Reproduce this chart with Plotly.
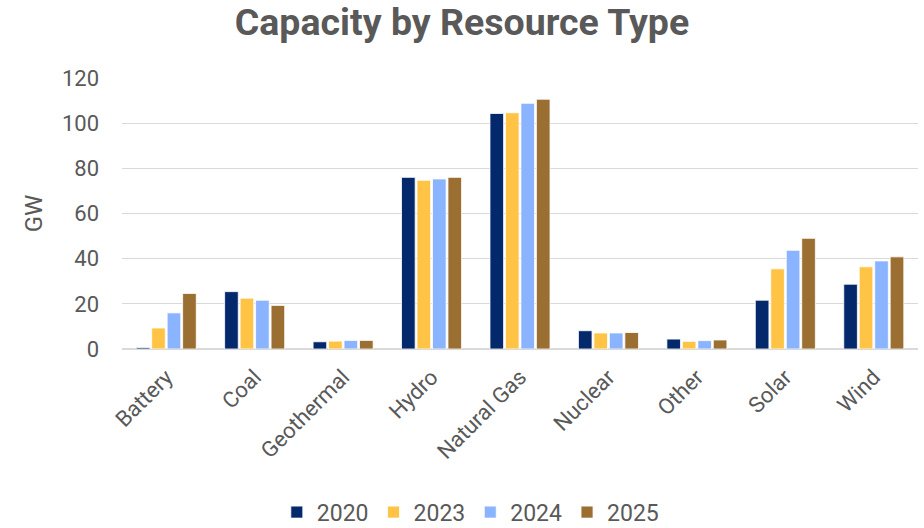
import plotly.graph_objects as go

categories = ["Battery", "Coal", "Geothermal", "Hydro", "Natural Gas", "Nuclear", "Other", "Solar", "Wind"]
years = ["2020", "2023", "2024", "2025"]
v2020 = [0.6, 25.4, 3.2, 76.0, 104.3, 8.1, 4.4, 21.6, 28.7]
v2023 = [9.3, 22.5, 3.5, 74.7, 104.6, 7.1, 3.4, 35.5, 36.4]
v2024 = [16.0, 21.6, 3.8, 75.3, 108.8, 7.1, 3.7, 43.7, 39.0]
v2025 = [24.6, 19.3, 3.8, 76.0, 110.6, 7.3, 4.0, 49.0, 40.8]
colors = ["#03286B", "#FFC445", "#8AB4FF", "#9B6E32"]
yticks = [0, 20, 40, 60, 80, 100, 120]

fig = go.Figure()
for name, vals, c in zip(years, [v2020, v2023, v2024, v2025], colors):
    fig.add_trace(go.Bar(x=categories, y=vals, name=name, marker=dict(color=c, line=dict(color="white", width=0.8))))

fig.update_layout(
    width=924, height=528,
    paper_bgcolor="white", plot_bgcolor="white",
    margin=dict(l=122, r=6, t=78, b=179),
    font=dict(family="Roboto", color="#595959", size=22),
    title=dict(text="<b>Capacity by Resource Type</b>", x=0.5, xanchor="center", y=0.958, yanchor="middle",
               yref="container", font=dict(size=37.5, color="#595959", family="Roboto")),
    barmode="group", bargap=0.3, bargroupgap=0.12,
    legend=dict(orientation="h", x=0.509, xanchor="center", xref="container", y=0.03, yanchor="middle",
                yref="container", font=dict(size=23, color="#595959"), itemwidth=30, traceorder="normal",
                tracegroupgap=0),
    showlegend=True,
)
fig.update_yaxes(range=[0, 120], tickvals=yticks, showgrid=True, gridcolor="#D9D9D9", gridwidth=1.3,
                 zeroline=True, zerolinecolor="#D9D9D9", zerolinewidth=1.5, automargin=False,
                 title=dict(text="GW", font=dict(size=24, color="#595959"), standoff=12),
                 ticks="", tickfont=dict(size=22), ticklabelstandoff=22)
fig.update_xaxes(tickangle=-45, tickfont=dict(size=22), showline=False, ticks="", automargin=False,
                 ticklabelstandoff=10)

fig.write_html("out.html")
